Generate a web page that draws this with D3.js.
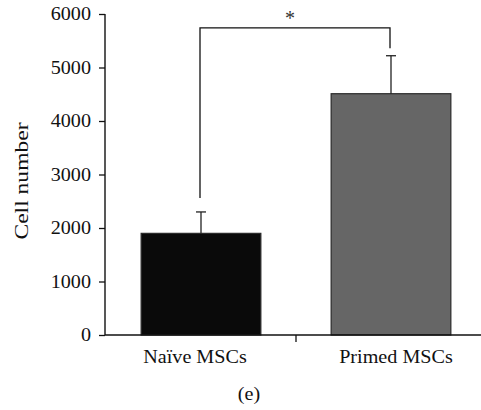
<!DOCTYPE html>
<html>
<head>
<meta charset="utf-8">
<script src="https://cdn.jsdelivr.net/npm/d3@7"></script>
<style>
  body { margin: 0; background: #fff; }
  text { font-family: "Liberation Serif", "Times New Roman", serif; fill: #111; }
</style>
</head>
<body>
<div id="chart"></div>
<script>
// data
const categories = ["Naïve MSCs", "Primed MSCs"];
const means = [1900, 4510];
const errors = [400, 710];
const yTicks = [0, 1000, 2000, 3000, 4000, 5000, 6000];
const fills = ["#0a0a0a", "#666666"];

let w = 481, h = 410;

let svg = d3.select("#chart")
    .append("svg")
    .attr("width", w)
    .attr("height", h);

let x = d3.scaleBand()
    .domain(categories)
    .range([106, 486])
    .paddingInner(0.37)
    .paddingOuter(0.185);

let y = d3.scaleLinear()
    .domain([0, 6000])
    .range([335, 14]);

let fontSize = "18px";
let sx = 1.12;

// y axis
let yAxis = svg.append("g")
    .attr("transform", "translate(105,0)")
    .call(d3.axisLeft(y).tickValues(yTicks).tickSize(6).tickFormat(d3.format("d")));
yAxis.select(".domain").attr("stroke", "#111").attr("stroke-width", 1.4).attr("d", "M0," + y(6000) + "V" + y(0));
yAxis.selectAll(".tick line").attr("stroke", "#111").attr("stroke-width", 1.3);
yAxis.selectAll(".tick text")
    .style("font-size", fontSize)
    .style("font-family", "Liberation Serif")
    .attr("fill", "#111")
    .attr("transform", "scale(" + sx + ",1)")
    .attr("x", -14 / sx)
    .attr("dy", "0.33em");

// bars
svg.selectAll(".bar")
    .data(categories)
    .enter()
    .append("rect")
    .attr("class", "bar")
    .attr("x", d => x(d))
    .attr("width", x.bandwidth())
    .attr("y", (d, i) => y(means[i]))
    .attr("height", (d, i) => y(0) - y(means[i]))
    .attr("fill", (d, i) => fills[i])
    .attr("stroke", "#2a2a2a")
    .attr("stroke-width", 1.2);

// error bars (upper only)
let eb = svg.selectAll(".err")
    .data(categories)
    .enter()
    .append("g")
    .attr("class", "err")
    .attr("stroke", "#222")
    .attr("stroke-width", 1.3);
eb.append("line")
    .attr("x1", d => x(d) + x.bandwidth() / 2)
    .attr("x2", d => x(d) + x.bandwidth() / 2)
    .attr("y1", (d, i) => y(means[i]))
    .attr("y2", (d, i) => y(means[i] + errors[i]));
eb.append("line")
    .attr("x1", d => x(d) + x.bandwidth() / 2 - 5)
    .attr("x2", d => x(d) + x.bandwidth() / 2 + 5)
    .attr("y1", (d, i) => y(means[i] + errors[i]))
    .attr("y2", (d, i) => y(means[i] + errors[i]));

// x axis
svg.append("line")
    .attr("x1", 105).attr("x2", w)
    .attr("y1", y(0)).attr("y2", y(0))
    .attr("stroke", "#111").attr("stroke-width", 1.4);
let mid = (x(categories[0]) + x.bandwidth() + x(categories[1])) / 2;
svg.append("line")
    .attr("x1", mid).attr("x2", mid)
    .attr("y1", y(0)).attr("y2", y(0) + 7)
    .attr("stroke", "#111").attr("stroke-width", 1.3);

svg.selectAll(".xlab")
    .data(categories)
    .enter()
    .append("text")
    .attr("class", "xlab")
    .attr("text-anchor", "middle")
    .attr("transform", (d, i) => "translate(" + (x(d) + x.bandwidth() / 2 + (i === 0 ? -6 : 5)) + ",363) scale(" + sx + ",1)")
    .style("font-size", fontSize)
    .text(d => d);

// significance bracket
let bx1 = x(categories[0]) + x.bandwidth() / 2 - 1;
let bx2 = x(categories[1]) + x.bandwidth() / 2 - 1;
let by = y(5740);
svg.append("path")
    .attr("d", "M" + bx1 + "," + y(2560) + "V" + by + "H" + bx2 + "V" + y(5360))
    .attr("fill", "none")
    .attr("stroke", "#111")
    .attr("stroke-width", 1.3);
svg.append("text")
    .attr("x", (bx1 + bx2) / 2 - 5)
    .attr("y", 25)
    .attr("text-anchor", "middle")
    .style("font-size", "20px")
    .style("fill", "#333")
    .text("*");

// y label
svg.append("text")
    .attr("transform", "translate(28,181) rotate(-90) scale(1.24,1)")
    .attr("text-anchor", "middle")
    .style("font-size", "19px")
    .text("Cell number");

// panel letter
svg.append("text")
    .attr("transform", "translate(249,400) scale(" + sx + ",1)")
    .attr("text-anchor", "middle")
    .style("font-size", fontSize)
    .text("(e)");
</script>
</body>
</html>
